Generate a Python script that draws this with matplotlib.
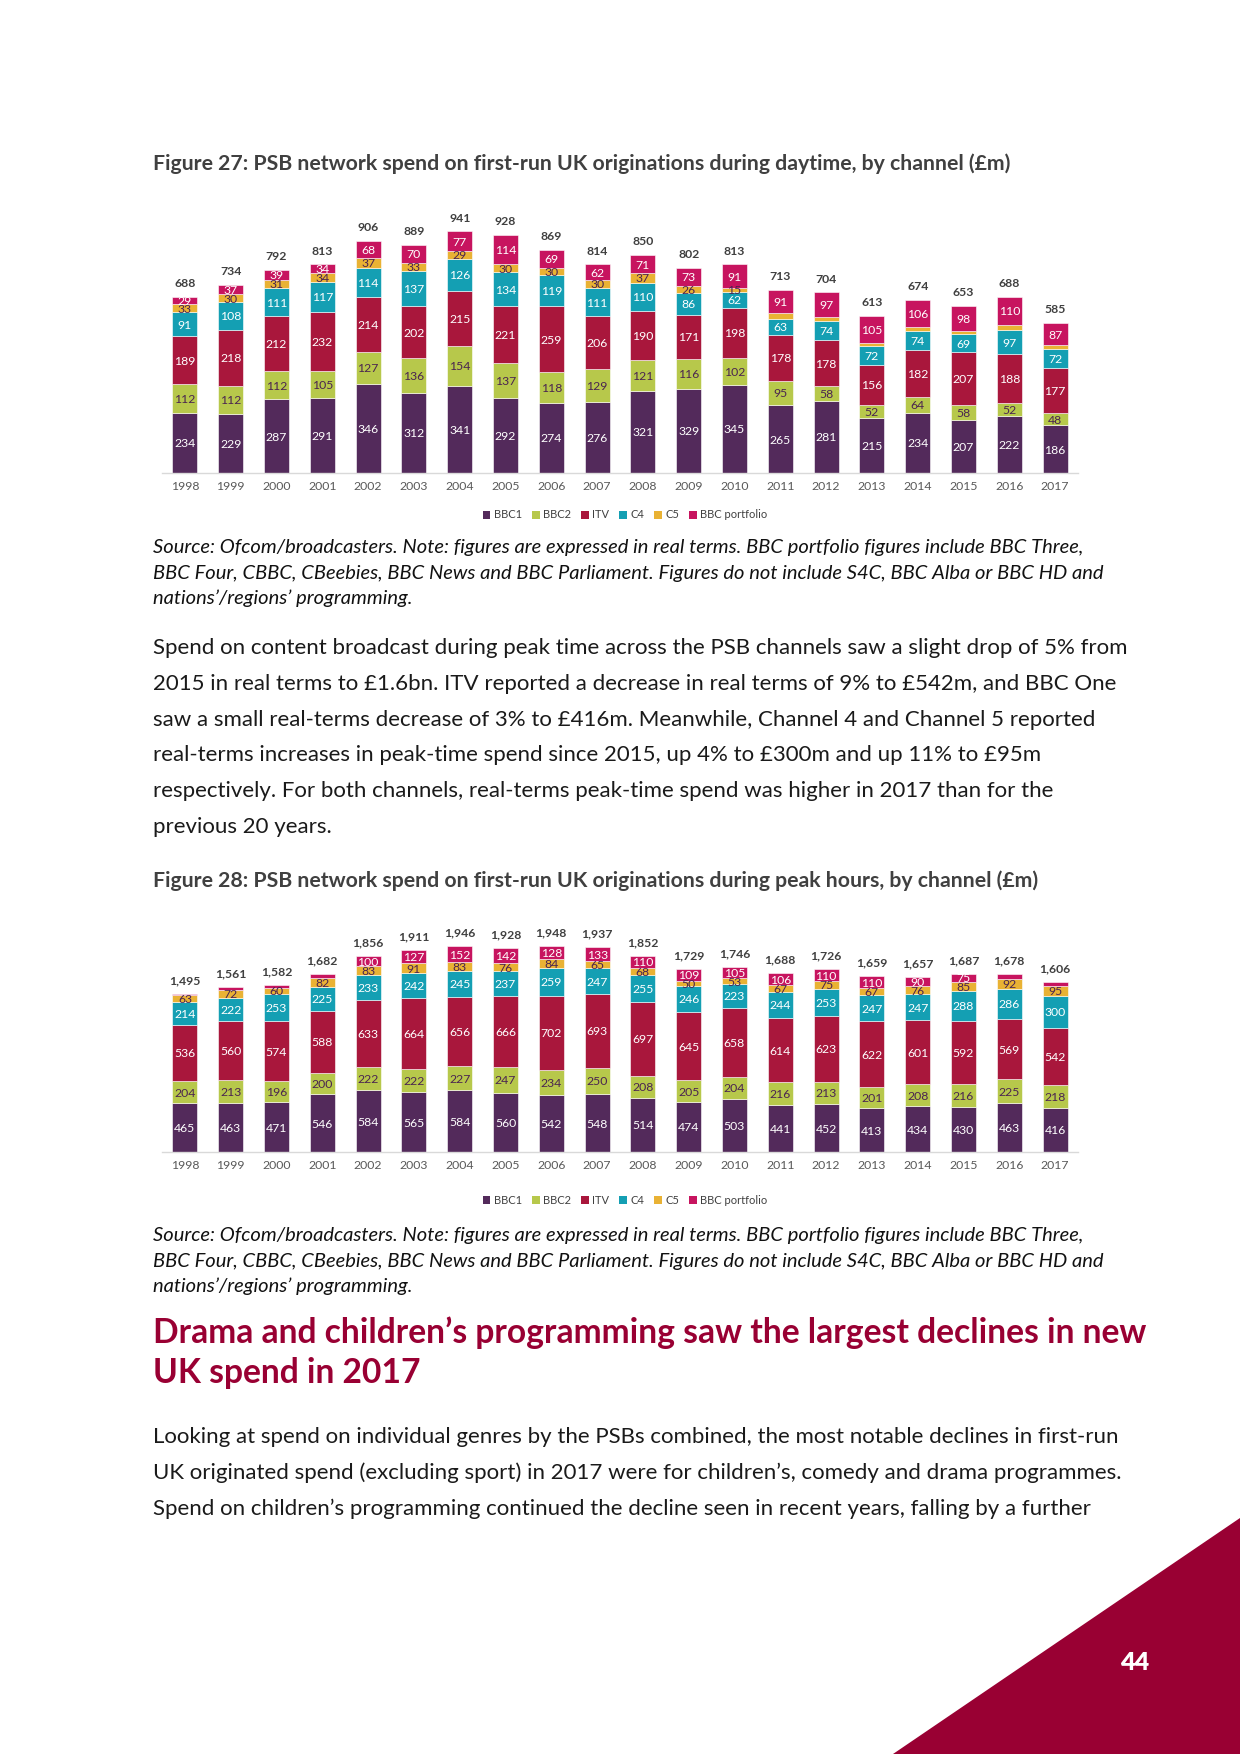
import matplotlib
matplotlib.use("Agg")
import matplotlib.pyplot as plt
from matplotlib.patches import Polygon, Patch
import numpy as np

plt.rcParams['font.family'] = ['Lato', 'DejaVu Sans']

W, H = 1240, 1754
DPI = 100

# ---------------- data ----------------
YEARS = [str(y) for y in range(1998, 2018)]
SERIES = ["BBC1", "BBC2", "ITV", "C4", "C5", "BBC portfolio"]

# Figure 27: daytime (£m)
DAY_BBC1 = [234, 229, 287, 291, 346, 312, 341, 292, 274, 276, 321, 329, 345, 265, 281, 215, 234, 207, 222, 186]
DAY_BBC2 = [112, 112, 112, 105, 127, 136, 154, 137, 118, 129, 121, 116, 102, 95, 58, 52, 64, 58, 52, 48]
DAY_ITV = [189, 218, 212, 232, 214, 202, 215, 221, 259, 206, 190, 171, 198, 178, 178, 156, 182, 207, 188, 177]
DAY_C4 = [91, 108, 111, 117, 114, 137, 126, 134, 119, 111, 110, 86, 62, 63, 74, 72, 74, 69, 97, 72]
DAY_C5 = [33, 30, 31, 34, 37, 33, 29, 30, 30, 30, 37, 26, 15, 21, 16, 13, 14, 14, 19, 15]
DAY_PORTFOLIO = [29, 37, 39, 34, 68, 70, 77, 114, 69, 62, 71, 73, 91, 91, 97, 105, 106, 98, 110, 87]
DAY_TOTAL = [688, 734, 792, 813, 906, 889, 941, 928, 869, 814, 850, 802, 813, 713, 704, 613, 674, 653, 688, 585]
DAY_HIDDEN = {"C5": ["2011", "2012", "2013", "2014", "2015", "2016", "2017"]}

# Figure 28: peak hours (£m)
PEAK_BBC1 = [465, 463, 471, 546, 584, 565, 584, 560, 542, 548, 514, 474, 503, 441, 452, 413, 434, 430, 463, 416]
PEAK_BBC2 = [204, 213, 196, 200, 222, 222, 227, 247, 234, 250, 208, 205, 204, 216, 213, 201, 208, 216, 225, 218]
PEAK_ITV = [536, 560, 574, 588, 633, 664, 656, 666, 702, 693, 697, 645, 658, 614, 623, 622, 601, 592, 569, 542]
PEAK_C4 = [214, 222, 253, 225, 233, 242, 245, 237, 259, 247, 255, 246, 223, 244, 253, 247, 247, 288, 286, 300]
PEAK_C5 = [63, 72, 60, 82, 83, 91, 83, 76, 84, 65, 68, 50, 53, 67, 75, 67, 76, 85, 92, 95]
PEAK_PORTFOLIO = [13, 31, 28, 41, 100, 127, 152, 142, 128, 133, 110, 109, 105, 106, 110, 110, 90, 75, 43, 35]
PEAK_TOTAL = [1495, 1561, 1582, 1682, 1856, 1911, 1946, 1928, 1948, 1937, 1852, 1729, 1746, 1688, 1726, 1659, 1657, 1687, 1678, 1606]
PEAK_HIDDEN = {"BBC portfolio": ["1998", "1999", "2000", "2001", "2016", "2017"]}

# ---------------- style ----------------
COLORS = {"BBC1": "#532a5b", "BBC2": "#b7c84b", "ITV": "#a9173c",
          "C4": "#149fb3", "C5": "#e9b234", "BBC portfolio": "#c7145f"}
LABEL_COLORS = {"BBC1": "white", "BBC2": "#4a2450", "ITV": "white",
                "C4": "white", "C5": "#4a2450", "BBC portfolio": "white"}
CRIMSON = "#990033"
LBL = 8.8

fig = plt.figure(figsize=(W / DPI, H / DPI), dpi=DPI)
renderer = fig.canvas.get_renderer()


def fx(x):
    return x / W


def fy(y):
    return 1 - y / H


def fit_lines(x, y0, dy, lines, ref_width, size0=10, **kw):
    """Draw lines of text; font size chosen so that first line spans ref_width px."""
    t = fig.text(fx(x), fy(y0), lines[0], fontsize=size0, ha='left', va='center', **kw)
    bb = t.get_window_extent(renderer)
    size = size0 * ref_width / bb.width
    t.set_fontsize(size)
    for k, line in enumerate(lines[1:], start=1):
        fig.text(fx(x), fy(y0 + k * dy), line, fontsize=size, ha='left', va='center', **kw)


def draw_chart(top, bottom_px, ymax, data, totals, hidden, legend_y):
    ax = fig.add_axes([fx(162), fy(bottom_px), (1078 - 162) / W, (bottom_px - top) / H])
    x = np.arange(len(YEARS))
    base = np.zeros(len(YEARS))
    for name in SERIES:
        vals = np.array(data[name], dtype=float)
        ax.bar(x, vals, 0.55, bottom=base, color=COLORS[name], edgecolor='white', linewidth=0.4, zorder=2)
        for i in range(len(YEARS)):
            if YEARS[i] in hidden.get(name, []):
                continue
            ax.text(x[i], base[i] + vals[i] / 2, f"{vals[i]:.0f}", ha='center', va='center_baseline',
                    fontsize=LBL, color=LABEL_COLORS[name], zorder=3)
        base += vals
    for i, t in enumerate(totals):
        ax.annotate(f"{t:,}", (x[i], base[i]), xytext=(0, 9.5), textcoords='offset points',
                    ha='center', va='center', fontsize=LBL, fontweight='bold', color='#404040')
    ax.set_xlim(-0.5, len(YEARS) - 0.5)
    ax.set_ylim(0, ymax)
    ax.set_xticks(x)
    ax.set_xticklabels(YEARS)
    ax.set_yticks([])
    ax.tick_params(axis='x', length=0, pad=6, labelsize=8.8, labelcolor='#595959')
    for s in ['top', 'right', 'left']:
        ax.spines[s].set_visible(False)
    ax.spines['bottom'].set_color('#d9d9d9')
    ax.spines['bottom'].set_linewidth(1.0)
    ax.patch.set_alpha(0)
    handles = [Patch(facecolor=COLORS[n], edgecolor='none') for n in SERIES]
    fig.legend(handles, SERIES, loc='center', bbox_to_anchor=(fx(625), fy(legend_y)), ncol=6,
               frameon=False, fontsize=8.0, handlelength=0.7, handleheight=0.7,
               handletextpad=0.3, columnspacing=0.9, labelcolor='#404040')
    return ax


SOURCE = ["Source: Ofcom/broadcasters. Note: figures are expressed in real terms. BBC portfolio figures include BBC Three,",
          "BBC Four, CBBC, CBeebies, BBC News and BBC Parliament. Figures do not include S4C, BBC Alba or BBC HD and",
          "nations\u2019/regions\u2019 programming."]

# Figure 27 title
fit_lines(153, 164, 0, ["Figure 27: PSB network spend on first-run UK originations during daytime, by channel (\u00a3m)"],
          859, fontweight='bold', color='#404040')

day = {"BBC1": DAY_BBC1, "BBC2": DAY_BBC2, "ITV": DAY_ITV, "C4": DAY_C4, "C5": DAY_C5,
       "BBC portfolio": DAY_PORTFOLIO}
draw_chart(180, 473, 293 / 0.2565, day, DAY_TOTAL, DAY_HIDDEN, 515)

fit_lines(153, 548, 25, SOURCE, 933, style='italic', color='#111111')

PARA1 = ["Spend on content broadcast during peak time across the PSB channels saw a slight drop of 5% from",
         "2015 in real terms to \u00a31.6bn. ITV reported a decrease in real terms of 9% to \u00a3542m, and BBC One",
         "saw a small real-terms decrease of 3% to \u00a3416m. Meanwhile, Channel 4 and Channel 5 reported",
         "real-terms increases in peak-time spend since 2015, up 4% to \u00a3300m and up 11% to \u00a395m",
         "respectively. For both channels, real-terms peak-time spend was higher in 2017 than for the",
         "previous 20 years."]
fit_lines(153, 648, 35.8, PARA1, 971, color='#1a1a1a')

fit_lines(153, 881, 0, ["Figure 28: PSB network spend on first-run UK originations during peak hours, by channel (\u00a3m)"],
          887, fontweight='bold', color='#404040')

peak = {"BBC1": PEAK_BBC1, "BBC2": PEAK_BBC2, "ITV": PEAK_ITV, "C4": PEAK_C4, "C5": PEAK_C5,
        "BBC portfolio": PEAK_PORTFOLIO}
draw_chart(900, 1152, 252 / 0.1058, peak, PEAK_TOTAL, PEAK_HIDDEN, 1200)

fit_lines(153, 1236, 25, SOURCE, 933, style='italic', color='#111111')

fit_lines(153, 1333, 40, ["Drama and children\u2019s programming saw the largest declines in new",
                          "UK spend in 2017"], 996, fontweight='bold', color=CRIMSON)

PARA2 = ["Looking at spend on individual genres by the PSBs combined, the most notable declines in first-run",
         "UK originated spend (excluding sport) in 2017 were for children\u2019s, comedy and drama programmes.",
         "Spend on children\u2019s programming continued the decline seen in recent years, falling by a further"]
fit_lines(153, 1437, 35.8, PARA2, 967, color='#1a1a1a')

# corner triangle and page number
tri = Polygon([(fx(893), fy(1754)), (fx(1240), fy(1518)), (fx(1240), fy(1754))],
              closed=True, transform=fig.transFigure, facecolor=CRIMSON, edgecolor='none')
fig.patches.append(tri)
fig.text(fx(1135), fy(1663), "44", ha='center', va='center', fontsize=18, fontweight='heavy', color='white')

fig.savefig("out.png", dpi=DPI)
